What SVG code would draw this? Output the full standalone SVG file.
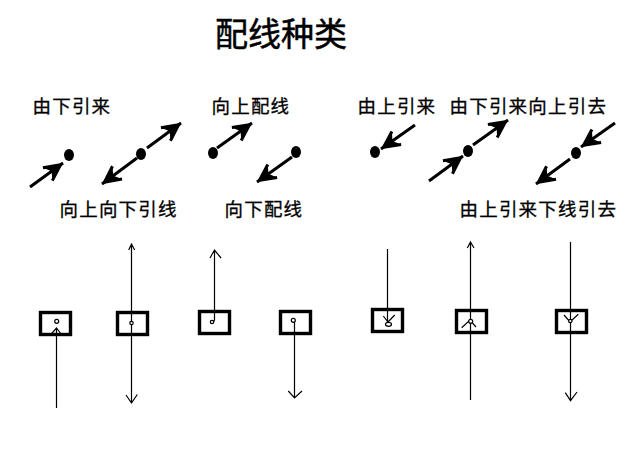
<svg xmlns="http://www.w3.org/2000/svg" width="637" height="456" viewBox="0 0 637 456">
<style>
text{font-family:"Noto Sans CJK SC","Liberation Sans",sans-serif;fill:#000;font-size:18.5px;letter-spacing:1.2px;stroke:#000;stroke-width:.3px}
.title{font-size:33px;letter-spacing:0;stroke-width:.5px}
.box{fill:#fff;stroke:#000;stroke-width:3.4px}
.dot{fill:#000}
.thick{fill:none;stroke:#000;stroke-width:3px;marker-end:url(#v)}
.thin{fill:none;stroke:#000;stroke-width:1.2px}
.pin{fill:#fff;stroke:#000;stroke-width:1.2px}
</style>
<defs>
<marker id="v" markerUnits="userSpaceOnUse" markerWidth="26" markerHeight="26" refX="24" refY="13" orient="auto" viewBox="0 0 26 26">
<path d="M5,5 L21,13 L5,21" fill="none" stroke="#000" stroke-width="3"/>
<path d="M5,5 L21,13 L5,21 L10,13Z" fill="#000"/>
</marker>
</defs>
<rect width="637" height="456" fill="#fff"/>
<text class="title" x="215" y="46">配线种类</text>
<g id="top-1"><ellipse class="dot" cx="69" cy="155" rx="5" ry="6"/><text x="32.5" y="113">由下引来</text></g>
<g id="top-2"><ellipse class="dot" cx="141" cy="154" rx="5" ry="6"/><text x="59.5" y="216">向上向下引线</text></g>
<g id="top-3"><ellipse class="dot" cx="213" cy="153" rx="5" ry="6"/><text x="211.5" y="113">向上配线</text></g>
<g id="top-4"><ellipse class="dot" cx="296" cy="152" rx="5" ry="6"/><text x="224.5" y="216">向下配线</text></g>
<g id="top-5"><ellipse class="dot" cx="375" cy="152" rx="5" ry="6"/><text x="357.5" y="113">由上引来</text></g>
<g id="top-6"><ellipse class="dot" cx="468" cy="151" rx="5" ry="6"/><text x="449.5" y="113">由下引来向上引去</text></g>
<g id="top-7"><ellipse class="dot" cx="576" cy="153" rx="5" ry="6"/><text x="459.5" y="216">由上引来下线引去</text></g>
<g id="box-1"><rect class="box" x="40.5" y="312.5" width="30" height="22"/><circle class="pin" cx="56.7" cy="321.3" r="2"/></g>
<g id="box-2"><rect class="box" x="117.5" y="312.5" width="30" height="22"/></g>
<g id="box-3"><rect class="box" x="199.5" y="311.5" width="30" height="22"/></g>
<g id="box-4"><rect class="box" x="280.5" y="311.5" width="30" height="22"/></g>
<g id="box-5"><rect class="box" x="372.5" y="309.5" width="30" height="22"/></g>
<g id="box-6"><rect class="box" x="456.5" y="310.5" width="30" height="22"/></g>
<g id="box-7"><rect class="box" x="556.5" y="310.5" width="30" height="22"/></g>
<g id="connectors">
<path class="thick" d="M30,187 L63,163"/>
<path class="thick" d="M147,148 L181,123"/>
<path class="thick" d="M137,158 L102,184"/>
<path class="thick" d="M217,148 L252,123"/>
<path class="thick" d="M292,157 L257,182"/>
<path class="thick" d="M415,125 L381,149"/>
<path class="thick" d="M429,181 L463,156"/>
<path class="thick" d="M473,145 L508,120"/>
<path class="thick" d="M615,123 L581,147"/>
<path class="thick" d="M570,159 L536,184"/>
<path class="thin" d="M56.5,408 V328 M51.7,333.5 L56.5,328 L60.7,333.5"/>
<path class="thin" d="M131.5,244 V403 M128.7,250 L131.5,244 L134.7,250 M126,395 L131.5,403 L137.3,394.5"/>
<path class="thin" d="M214.5,250 V320 Q214,322 212.5,322 M210,258 L214.5,250 L221,258"/>
<path class="thin" d="M294.5,322 V398 M288.3,391 L294.5,398 L302,391"/>
<path class="thin" d="M387.5,249 V322 M383.3,316 L388,322 L394.7,315"/>
<path class="thin" d="M470.5,242 V400 M467.3,248 L470.5,242 L474,248 M461.7,327.7 L470,320 L476,327"/>
<path class="thin" d="M570.5,242 V400.7 M564,315 L570,322 L578.3,314.3 M565.3,392.7 L570.5,400.7 L577,392"/>
<circle class="pin" cx="131.5" cy="323" r="1.7"/>
<circle class="pin" cx="212" cy="322" r="1.7"/>
<circle class="pin" cx="293.3" cy="320.3" r="2"/>
<ellipse class="pin" cx="388.5" cy="324.3" rx="3" ry="2"/>
<circle class="pin" cx="470.7" cy="321.3" r="2"/>
<circle class="pin" cx="570.3" cy="321" r="1.7"/>
</g>
</svg>
